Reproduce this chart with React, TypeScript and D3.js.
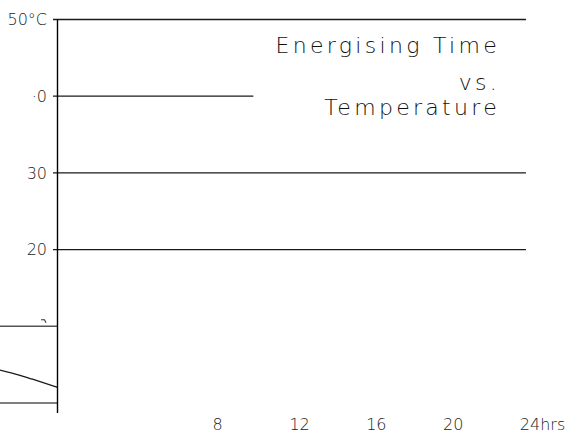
import React from "react";
import * as d3 from "d3";

// ---- data ----
const yTickValues = [50, 40, 30, 20];
const yTickLabels = ["50°C", "·0", "30", "20"];
const gridEndHours = [24.4, 10.2, 24.4, 24.4];
const leftRefValues = [10, 0];
const leftRefStartHour = -3;
const xTickValues = [8, 12, 16, 20, 24];
const xTickLabels = ["8", "12", "16", "20", "24hrs"];
const curveHours = [-3, -2, -1.3, 0];
const curveTemps = [4.3, 3.65, 3.1, 2.05];
const titleLines = ["Energising Time", "vs.", "Temperature"];

const W = 570;
const H = 435;

export default function App() {
  const x = d3.scaleLinear().domain([0, 24]).range([57.5, 518.3]);
  const y = d3.scaleLinear().domain([0, 50]).range([403, 19.5]);
  const axisBottom = y(-1.3);

  const line = d3
    .line<number>()
    .x((_, i) => x(curveHours[i]))
    .y((d) => y(d))
    .curve(d3.curveMonotoneX);

  const tickFont = "'DejaVu Sans', sans-serif";

  return (
    <svg
      width={W}
      height={H}
      viewBox={`0 0 ${W} ${H}`}
      style={{ position: "absolute", left: 0, top: 0, background: "#fff" }}
    >
      {yTickValues.map((v, i) => (
        <line
          key={"g" + v}
          x1={x(0) - 4.5}
          x2={x(gridEndHours[i])}
          y1={y(v)}
          y2={y(v)}
          stroke="#1a1a1a"
          strokeWidth={1.3}
        />
      ))}
      {leftRefValues.map((v) => (
        <line
          key={"l" + v}
          x1={x(leftRefStartHour)}
          x2={x(0)}
          y1={y(v)}
          y2={y(v)}
          stroke="#555"
          strokeWidth={1.4}
        />
      ))}
      <path
        d={`M${x(0) - 16.5},${y(10) - 6.5} L${x(0) - 13},${y(10) - 6.5} L${x(0) - 11.5},${y(10) - 3.5}`}
        fill="none"
        stroke="#333"
        strokeWidth={1.1}
      />
      <path d={line(curveTemps) || ""} fill="none" stroke="#1a1a1a" strokeWidth={1.3} />
      <line x1={x(0)} x2={x(0)} y1={y(50) - 0.5} y2={axisBottom} stroke="#000" strokeWidth={1.4} />
      {yTickValues.map((v, i) => (
        <text
          key={"yt" + v}
          x={47}
          y={y(v)}
          dy="0.36em"
          textAnchor="end"
          fontFamily={tickFont}
          fontWeight={200}
          fontSize={16}
          fill="#222"
        >
          {yTickLabels[i]}
        </text>
      ))}
      {xTickValues.map((h, i) => (
        <text
          key={"xt" + h}
          x={x(h) + 1.5}
          y={430}
          textAnchor="start"
          fontFamily={tickFont}
          fontWeight={200}
          fontSize={16}
          fill="#222"
        >
          {xTickLabels[i]}
        </text>
      ))}
      {titleLines.map((t, i) => (
        <text
          key={"t" + i}
          x={500}
          y={[52.5, 90, 115][i]}
          textAnchor="end"
          fontFamily={tickFont}
          fontWeight={200}
          fontSize={22}
          letterSpacing={3.3}
          fill="#111"
          style={{ whiteSpace: "pre" }}
        >
          {t}
        </text>
      ))}
    </svg>
  );
}
